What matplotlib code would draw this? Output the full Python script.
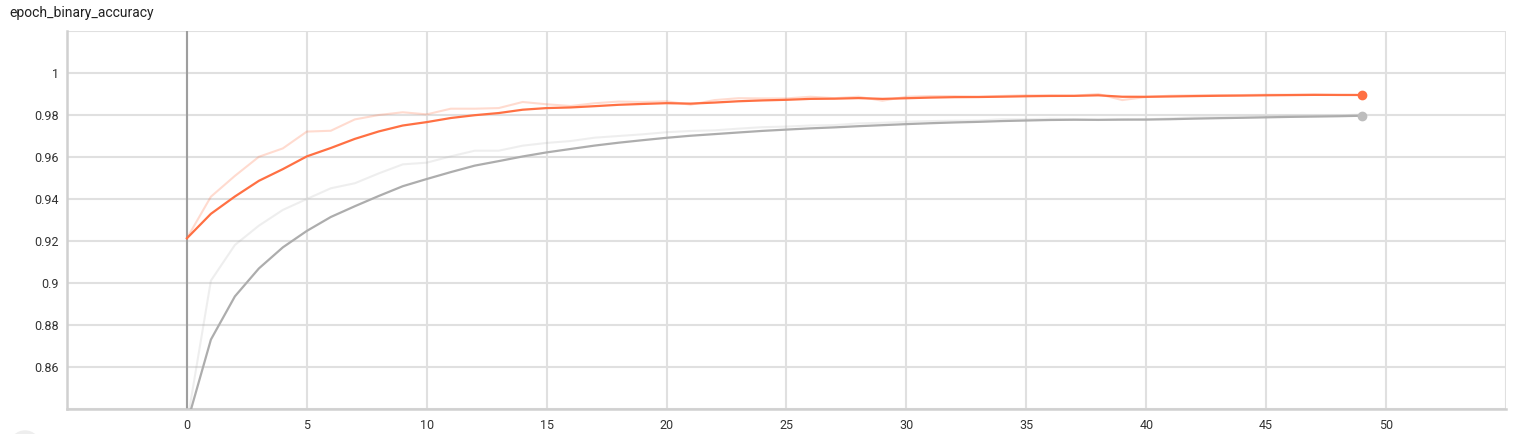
import numpy as np
import pandas as pd
import matplotlib
matplotlib.use("Agg")
import matplotlib.pyplot as plt
from matplotlib.patches import Ellipse

plt.rcParams["font.family"] = ["Roboto", "DejaVu Sans"]

title = "epoch_binary_accuracy"
epochs = np.arange(50)

# raw values (train = grey, validation = orange)
orange_raw = [
    0.9213, 0.9411, 0.9510, 0.9601, 0.9641, 0.9721, 0.9725, 0.9779, 0.9800, 0.9813,
    0.9803, 0.9830, 0.9830, 0.9833, 0.9862, 0.9851, 0.9843, 0.9856, 0.9864, 0.9862,
    0.9865, 0.9849, 0.9871, 0.9880, 0.9879, 0.9879, 0.9887, 0.9880, 0.9887, 0.9868,
    0.9887, 0.9890, 0.9890, 0.9887, 0.9891, 0.9894, 0.9894, 0.9892, 0.9900, 0.9871,
    0.9886, 0.9892, 0.9894, 0.9895, 0.9895, 0.9897, 0.9897, 0.9898, 0.9895, 0.9895,
]
grey_raw = [
    0.8330, 0.9011, 0.9181, 0.9273, 0.9348, 0.9400, 0.9451, 0.9475, 0.9522, 0.9565,
    0.9573, 0.9603, 0.9630, 0.9630, 0.9654, 0.9667, 0.9676, 0.9692, 0.9700, 0.9708,
    0.9718, 0.9724, 0.9727, 0.9735, 0.9742, 0.9745, 0.9750, 0.9752, 0.9760, 0.9763,
    0.9768, 0.9771, 0.9773, 0.9774, 0.9780, 0.9780, 0.9782, 0.9780, 0.9776, 0.9780,
    0.9779, 0.9784, 0.9789, 0.9790, 0.9791, 0.9794, 0.9796, 0.9796, 0.9798, 0.9802,
]
smoothing = 0.7

x_ticks = np.arange(-5, 56, 5)
x_labels = [str(t) if 0 <= t <= 50 else "" for t in x_ticks]
y_ticks = np.round(np.arange(0.84, 1.0201, 0.02), 2)
y_labels = ["" if t in (0.84, 1.02) else f"{t:g}" for t in y_ticks]

# tensorboard style debiased EMA
orange_smooth = pd.Series(orange_raw).ewm(alpha=1 - smoothing).mean()
grey_smooth = pd.Series(grey_raw).ewm(alpha=1 - smoothing).mean()

fig = plt.figure(figsize=(15.2, 4.34), dpi=100)
ax = fig.add_axes([67 / 1520, 1 - 409 / 434, (1506 - 67) / 1520, (409 - 31) / 434])

orange = "#ff7043"
grey = "#adadad"

ax.plot(epochs, grey_raw, color=grey, alpha=0.2, lw=1.5, zorder=3)
ax.plot(epochs, orange_raw, color=orange, alpha=0.25, lw=1.5, zorder=3)
ax.plot(epochs, grey_smooth, color=grey, lw=1.6, zorder=4)
ax.plot(epochs, orange_smooth, color=orange, lw=1.6, zorder=5)
ax.plot(epochs[-1], grey_smooth.iloc[-1], "o", color="#bdbdbd", ms=6, zorder=6)
ax.plot(epochs[-1], orange_smooth.iloc[-1], "o", color=orange, ms=6, zorder=6)

ax.axvline(0, color="#9e9e9e", lw=1.5, zorder=2)

ax.set_xlim(-5, 55)
ax.set_ylim(0.84, 1.02)
ax.set_xticks(x_ticks)
ax.set_xticklabels(x_labels)
ax.set_yticks(y_ticks)
ax.set_yticklabels(y_labels)
ax.tick_params(length=0, labelsize=9, colors="#333333")
ax.tick_params(axis="y", pad=6)
ax.tick_params(axis="x", pad=7)
ax.grid(True, color="#e0e0e0", lw=1.5, zorder=1)
ax.set_axisbelow(True)
for side in ["top", "right"]:
    ax.spines[side].set_visible(False)
for side in ["left", "bottom"]:
    ax.spines[side].set_color("#d0d0d0")
    ax.spines[side].set_linewidth(1.8)

fig.text(9 / 1520, 1 - 13 / 434, title, fontsize=10, color="#212121",
         ha="left", va="center")

# bit of the cut-off round button under the chart
fig.add_artist(Ellipse((25 / 1520, 1 - 446 / 434), 30 / 1520, 30 / 434,
                       transform=fig.transFigure, color="#eeeeee", clip_on=False))

fig.savefig("out.png", dpi=100)
